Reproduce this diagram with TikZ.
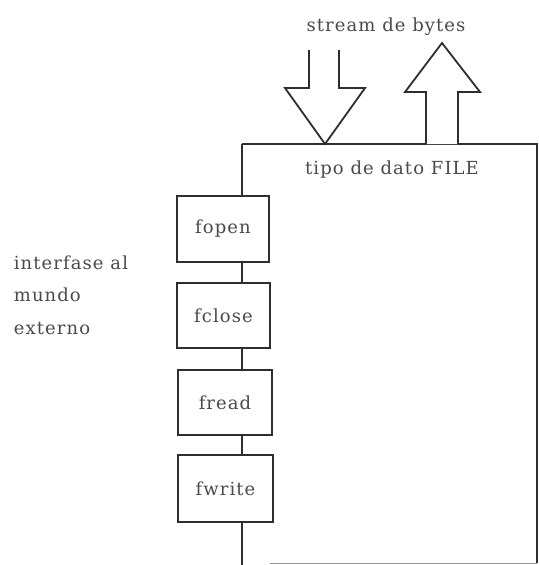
\documentclass[tikz,border=0pt]{standalone}
\usepackage{fontspec}
\setmainfont{DejaVu Serif}[LetterSpace=6]
\definecolor{ink}{HTML}{2E2E2E}
\definecolor{txt}{HTML}{4A4A4A}
\begin{document}
\begin{tikzpicture}[x=1pt,y=-1pt,
  line width=1.8pt, draw=ink,
  fn/.style={draw=ink, fill=white, line width=1.8pt, inner sep=0pt, text=txt, font=\fontsize{18}{21}\selectfont},
  lbl/.style={text=txt, inner sep=0pt, font=\fontsize{18}{21}\selectfont}]
\useasboundingbox (0,0) rectangle (539,565);
% main FILE box
\coordinate (tl) at (242,144);
\coordinate (tr) at (537,144);
\coordinate (br) at (537,563);
\coordinate (bl) at (242,565);
\draw[ink] (tl) -- (tr) -- (br);
\draw[line width=1pt, draw=ink!50] (270,563) -- (br);
\draw[ink] (tl) -- (bl);
\node[lbl] (file) at (392,170) {tipo de dato FILE};
% arrows
\draw[ink, fill=white, line join=miter]
  (309,50) -- (309,88) -- (285,88) -- (325,144) -- (365,88) -- (339,88) -- (339,50);
\draw[ink, fill=white, line join=miter]
  (426,144) -- (426,92) -- (405,92) -- (442,43) -- (480,92) -- (458,92) -- (458,144);
\node[lbl] (stream) at (386,27) {stream de bytes};
% function boxes
\node[fn, minimum width=92pt, minimum height=66pt] (fopen) at (223,229) {fopen};
\node[fn, minimum width=93pt, minimum height=65pt] (fclose) at (223.5,315.5) {fclose};
\node[fn, minimum width=94pt, minimum height=65pt] (fread) at (225,402.5) {fread};
\node[fn, minimum width=95pt, minimum height=67pt] (fwrite) at (225.5,488.5) {fwrite};
% side label
\node[lbl, anchor=west, align=left, font=\fontsize{18}{32.5}\selectfont] (iface) at (13,295) {interfase al\\mundo\\externo};
\end{tikzpicture}
\end{document}
